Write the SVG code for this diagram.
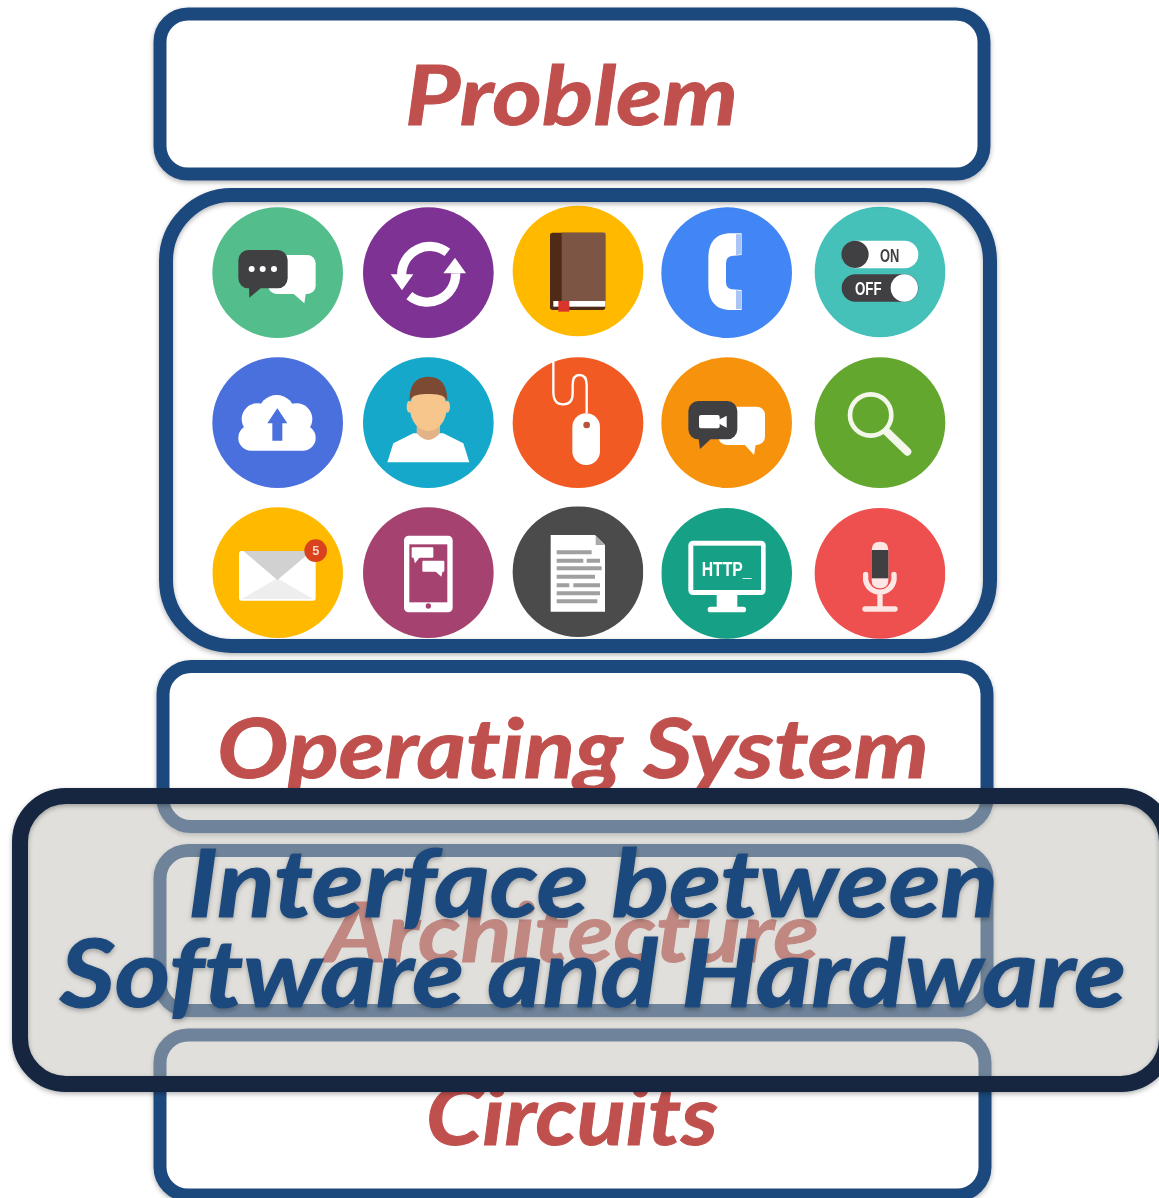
<svg xmlns="http://www.w3.org/2000/svg" width="1159" height="1198" viewBox="0 0 1159 1198">
<style>
.box{fill:#fff;stroke:#1f497d;stroke-width:13}
.lab{font-family:"Lato","Liberation Sans",sans-serif;font-weight:700;font-style:italic;fill:#c0504d;stroke:#c0504d;stroke-width:1;font-size:83px;font-variant-ligatures:none}
.blue{fill:#1f497d;stroke:#1f497d;stroke-width:1.2;font-size:94px}
.w{fill:#fff}.d{fill:#414042}
.cap{font-family:"Liberation Sans Narrow","Liberation Sans",sans-serif;font-weight:700}
</style>
<defs>
<filter id="sh" x="-5%" y="-5%" width="110%" height="115%"><feDropShadow dx="0" dy="2" stdDeviation="2.5" flood-color="#000" flood-opacity=".3"/></filter>
<filter id="soft" x="-5%" y="-5%" width="110%" height="110%"><feGaussianBlur stdDeviation=".45"/></filter>
</defs>
<rect width="1159" height="1198" fill="#fff"/>

<g id="problem"><rect class="box" x="160" y="14" width="824" height="160" rx="28" filter="url(#sh)"/>
<text class="lab" x="405" y="125" textLength="333" lengthAdjust="spacingAndGlyphs">Problem</text></g>

<g id="applications">
<rect x="166" y="195" width="824" height="451" rx="66" fill="#fff"/>
<g id="icons" filter="url(#soft)">
<g transform="translate(200 195) scale(.33333)">
<circle cx="233" cy="233" r="196" fill="#52be8c"/>
<rect class="w" x="205" y="180" width="142" height="117" rx="25"/><path class="w" d="M275 292L318 292L313 325Z"/>
<rect class="d" x="115" y="165" width="148" height="115" rx="30"/><path class="d" d="M147 272L182 280L148 308Z"/>
<circle class="w" cx="155" cy="222" r="9"/><circle class="w" cx="188" cy="222" r="9"/><circle class="w" cx="222" cy="222" r="9"/>

<circle cx="685" cy="233" r="196" fill="#7e3294"/>
<path d="M605 240A85 85 0 0 1 742 172M628 302A85 85 0 0 0 767 235" fill="none" stroke="#fff" stroke-width="28"/>
<path class="w" d="M572 238L640 238L606 286ZM730 235L798 235L765 188Z"/>

<circle cx="1134" cy="228" r="196" fill="#ffba00"/>
<rect x="1050" y="113" width="166" height="232" rx="8" fill="#4f2a18"/>
<rect x="1085" y="113" width="131" height="205" fill="#7b5445"/>
<rect class="w" x="1060" y="318" width="156" height="17"/>
<rect x="1075" y="318" width="33" height="32" fill="#d9352a"/>

<circle cx="233" cy="683" r="196" fill="#4a6fdc"/>
<rect class="w" x="115" y="690" width="232" height="77" rx="38"/>
<circle class="w" cx="230" cy="655" r="55"/><circle class="w" cx="172" cy="672" r="47"/><circle class="w" cx="290" cy="672" r="47"/>
<path d="M232 640L262 685L247 685L247 737L217 737L217 685L202 685Z" fill="#4a6fdc"/>

<circle cx="685" cy="683" r="196" fill="#13a8ca"/>
<path class="w" d="M562 802L580 745L640 715L730 715L790 745L808 802Z"/>
<path d="M650 680L720 680L720 715Q685 755 650 715Z" fill="#e3b388"/>
<ellipse cx="628" cy="635" rx="8" ry="18" fill="#f7c68c"/><ellipse cx="742" cy="635" rx="8" ry="18" fill="#f7c68c"/>
<ellipse cx="685" cy="640" rx="55" ry="68" fill="#f7c68c"/>
<path d="M628 618Q628 545 685 545Q742 545 742 618Q735 595 685 597Q635 595 628 618Z" fill="#7b4a30"/>

<circle cx="1134" cy="683" r="196" fill="#f15a22"/>
<rect class="w" x="1117" y="655" width="83" height="155" rx="41"/><circle cx="1160" cy="690" r="10" fill="#b5533b"/>
<path d="M1060 500L1060 590Q1060 628 1090 628Q1118 628 1118 595L1118 570Q1118 540 1138 540Q1160 540 1160 570L1160 655" fill="none" stroke="#fff" stroke-width="7"/>
</g>

<g transform="translate(600 195) scale(.33333)">
<circle cx="380" cy="233" r="196" fill="#4285f4"/>
<path class="w" d="M385 115L425 115L425 180L395 183Q378 185 378 205L378 260Q378 280 395 283L425 285L425 345L385 345Q325 340 325 270L325 190Q325 120 385 115Z"/>
<path d="M408 118L424 118L424 178L408 180ZM408 286L424 288L424 342L408 342Z" fill="#a9c4f5"/>

<circle cx="840" cy="231" r="196" fill="#45c1b9"/>
<rect class="w" x="725" y="137" width="230" height="83" rx="41"/><circle class="d" cx="765" cy="178" r="41"/>
<text class="cap d" x="840" y="200" font-size="56" textLength="58" lengthAdjust="spacingAndGlyphs">ON</text>
<rect class="d" x="725" y="238" width="230" height="82" rx="41"/><circle class="w" cx="913" cy="279" r="41"/>
<text class="cap w" x="765" y="301" font-size="56" textLength="80" lengthAdjust="spacingAndGlyphs">OFF</text>

<circle cx="380" cy="683" r="196" fill="#f7920e"/>
<rect class="w" x="355" y="635" width="140" height="115" rx="25"/><path class="w" d="M430 745L468 745L462 780Z"/>
<rect class="d" x="265" y="618" width="147" height="115" rx="30"/><path class="d" d="M295 725L335 730L300 762Z"/>
<rect class="w" x="297" y="660" width="62" height="40" rx="6"/><path class="w" d="M355 675L380 662L380 698L355 685Z"/>

<circle cx="840" cy="683" r="196" fill="#63a72f"/>
<circle cx="812" cy="660" r="62" fill="none" stroke="#f2f7ea" stroke-width="14"/>
<path d="M860 710L922 770" stroke="#f2f7ea" stroke-width="24" stroke-linecap="round"/>
</g>

<g transform="translate(200 495) scale(.33333)">
<circle cx="233" cy="233" r="196" fill="#ffba00"/>
<rect class="w" x="117" y="168" width="230" height="149" rx="8"/>
<path d="M125 312L232 250L340 312Z" fill="#eee"/><path d="M130 168L335 168L232 255Z" fill="#d1d1d1"/>
<circle cx="347" cy="167" r="34" fill="#d9431e"/>
<text x="347" y="181" font-family="Liberation Sans,sans-serif" font-weight="700" font-size="38" text-anchor="middle" fill="#fbd7c8">5</text>

<circle cx="685" cy="233" r="196" fill="#a64270"/>
<rect class="w" x="612" y="122" width="146" height="230" rx="14"/>
<rect x="628" y="148" width="114" height="174" fill="#a64270"/>
<rect class="w" x="635" y="157" width="65" height="31" rx="3"/><path class="w" d="M640 186L660 186L645 205Z"/>
<rect class="w" x="667" y="197" width="66" height="33" rx="3"/><path class="w" d="M705 228L728 228L724 245Z"/>
<circle cx="685" cy="333" r="8" fill="#a64270"/>

<circle cx="1134" cy="230" r="196" fill="#4b4b4b"/>
<path class="w" d="M1052 120L1185 120L1215 150L1215 350L1052 350Z"/>
<path d="M1187 122L1213 150L1187 150Z" fill="#aaa"/>
<path d="M1070 172H1175M1070 197H1150M1160 197H1200M1070 220H1205M1070 245H1185M1070 271H1108M1120 271H1200M1070 295H1200M1070 319H1192" stroke="#a0a0a0" stroke-width="12"/>
</g>

<g transform="translate(600 495) scale(.33333)">
<circle cx="380" cy="235" r="196" fill="#16a085"/>
<rect class="w" x="265" y="137" width="232" height="163" rx="14"/>
<rect x="280" y="152" width="203" height="133" fill="#16a085"/>
<path class="w" d="M350 298L412 298L412 337L350 337Z"/><rect class="w" x="323" y="335" width="115" height="17" rx="8"/>
<text class="cap w" x="305" y="242" font-size="58" textLength="150" lengthAdjust="spacingAndGlyphs">HTTP_</text>

<circle cx="840" cy="235" r="196" fill="#ee5050"/>
<path d="M797 238L797 255A43 43 0 0 0 882 255L882 238M840 298L840 340" fill="none" stroke="#fde6e4" stroke-width="16" stroke-linecap="round"/>
<path d="M795 342L885 342" stroke="#fde6e4" stroke-width="16" stroke-linecap="round"/>
<path d="M815 165Q815 140 840 140Q865 140 865 165L865 255Q865 280 840 280Q815 280 815 255Z" fill="#fde6e4"/>
<rect class="d" x="815" y="165" width="50" height="85"/>
</g>
</g>
<rect x="166" y="195" width="824" height="451" rx="66" fill="none" stroke="#1f497d" stroke-width="14" filter="url(#sh)"/>
</g>

<g id="operating-system"><rect class="box" x="163" y="666.5" width="824" height="160" rx="28" filter="url(#sh)"/>
<text class="lab" x="217" y="778" textLength="712" lengthAdjust="spacingAndGlyphs">Operating System</text></g>

<g id="architecture"><rect class="box" x="160" y="850.5" width="827" height="160" rx="28" filter="url(#sh)"/>
<text class="lab" x="325" y="962" textLength="494" lengthAdjust="spacingAndGlyphs">Architecture</text></g>

<g id="circuits"><rect class="box" x="160" y="1035" width="825" height="160" rx="28" filter="url(#sh)"/>
<text class="lab" x="426" y="1145" textLength="292" lengthAdjust="spacingAndGlyphs">Circuits</text></g>

<g id="interface">
<rect x="20" y="796" width="1147" height="288" rx="46" fill="#c2bfb7" fill-opacity=".5"/>
<rect x="20" y="796" width="1147" height="288" rx="46" fill="none" stroke="#12263f" stroke-width="16" filter="url(#sh)"/>
<g filter="url(#sh)">
<text class="lab blue" x="188" y="917" textLength="810" lengthAdjust="spacingAndGlyphs">Interface between</text>
<text class="lab blue" x="60" y="1007" textLength="1066" lengthAdjust="spacingAndGlyphs">Software and Hardware</text>
</g>
</g>
<g id="connectors"/>
</svg>
